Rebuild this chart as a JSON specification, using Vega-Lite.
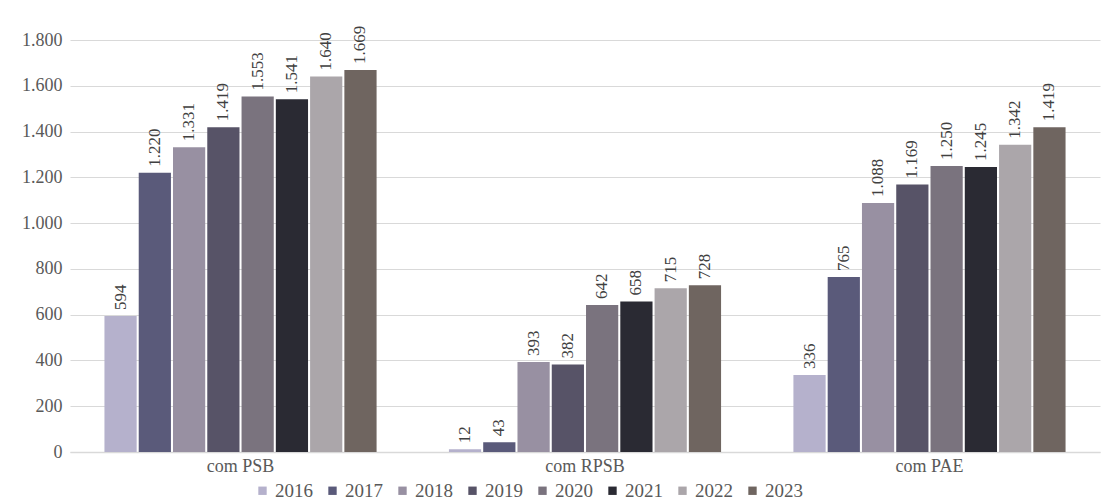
{
  "$schema": "https://vega.github.io/schema/vega-lite/v6.json",
  "width": 1110,
  "height": 502,
  "autosize": {"type": "fit", "contains": "padding"},
  "padding": {"left": 21, "top": 31, "right": 10, "bottom": 27},
  "config": {
    "locale": {"number": {"decimal": ",", "thousands": ".", "grouping": [3], "currency": ["R$", ""]}},
    "font": "Liberation Serif, Times New Roman, serif",
    "view": {"stroke": null},
    "axis": {"labelFont": "Liberation Serif, Times New Roman, serif"},
    "legend": {"labelFont": "Liberation Serif, Times New Roman, serif"},
    "text": {"font": "Liberation Serif, Times New Roman, serif"}
  },
  "data": {
    "values": [
      {"grupo": "com PSB", "ano": "2016", "valor": 594},
      {"grupo": "com PSB", "ano": "2017", "valor": 1220},
      {"grupo": "com PSB", "ano": "2018", "valor": 1331},
      {"grupo": "com PSB", "ano": "2019", "valor": 1419},
      {"grupo": "com PSB", "ano": "2020", "valor": 1553},
      {"grupo": "com PSB", "ano": "2021", "valor": 1541},
      {"grupo": "com PSB", "ano": "2022", "valor": 1640},
      {"grupo": "com PSB", "ano": "2023", "valor": 1669},
      {"grupo": "com RPSB", "ano": "2016", "valor": 12},
      {"grupo": "com RPSB", "ano": "2017", "valor": 43},
      {"grupo": "com RPSB", "ano": "2018", "valor": 393},
      {"grupo": "com RPSB", "ano": "2019", "valor": 382},
      {"grupo": "com RPSB", "ano": "2020", "valor": 642},
      {"grupo": "com RPSB", "ano": "2021", "valor": 658},
      {"grupo": "com RPSB", "ano": "2022", "valor": 715},
      {"grupo": "com RPSB", "ano": "2023", "valor": 728},
      {"grupo": "com PAE", "ano": "2016", "valor": 336},
      {"grupo": "com PAE", "ano": "2017", "valor": 765},
      {"grupo": "com PAE", "ano": "2018", "valor": 1088},
      {"grupo": "com PAE", "ano": "2019", "valor": 1169},
      {"grupo": "com PAE", "ano": "2020", "valor": 1250},
      {"grupo": "com PAE", "ano": "2021", "valor": 1245},
      {"grupo": "com PAE", "ano": "2022", "valor": 1342},
      {"grupo": "com PAE", "ano": "2023", "valor": 1419}
    ]
  },
  "encoding": {
    "x": {
      "field": "grupo", "type": "nominal", "sort": ["com PSB", "com RPSB", "com PAE"],
      "scale": {"paddingInner": 0.21, "paddingOuter": 0.1},
      "axis": {"title": null, "labelAngle": 0, "ticks": false, "domainColor": "#d9d9d9", "domainWidth": 1.5,
               "labelFontSize": 18, "labelColor": "#595959", "labelPadding": 5}
    },
    "xOffset": {"field": "ano", "type": "nominal", "scale": {"paddingInner": 0.06}},
    "y": {
      "field": "valor", "type": "quantitative",
      "scale": {"domain": [0, 1800], "nice": false},
      "axis": {"title": null, "values": [0, 200, 400, 600, 800, 1000, 1200, 1400, 1600, 1800], "format": ",d",
               "domain": false, "ticks": false, "gridColor": "#d9d9d9", "gridWidth": 1,
               "labelFontSize": 18, "labelColor": "#595959", "labelPadding": 8}
    }
  },
  "layer": [
    {
      "mark": {"type": "bar"},
      "encoding": {
        "color": {
          "field": "ano", "type": "nominal",
          "scale": {"domain": ["2016","2017","2018","2019","2020","2021","2022","2023"],
                    "range": ["#b5b1cc","#5a5a7a","#9890a2","#575367","#7a737e","#2a2a33","#aba6aa","#6f6560"]},
          "legend": {"title": null, "orient": "none", "legendX": 183, "legendY": 441, "direction": "horizontal", "columns": 8,
                     "symbolType": "square", "symbolSize": 70, "symbolStrokeWidth": 0,
                     "labelFontSize": 19, "labelColor": "#595959", "columnPadding": 10, "labelOffset": 3}
        }
      }
    },
    {
      "mark": {"type": "text", "angle": 270, "align": "left", "baseline": "middle", "dx": 6, "fontSize": 17, "color": "#404040"},
      "encoding": {
        "text": {"field": "valor", "type": "quantitative", "format": ",d"}
      }
    }
  ]
}
